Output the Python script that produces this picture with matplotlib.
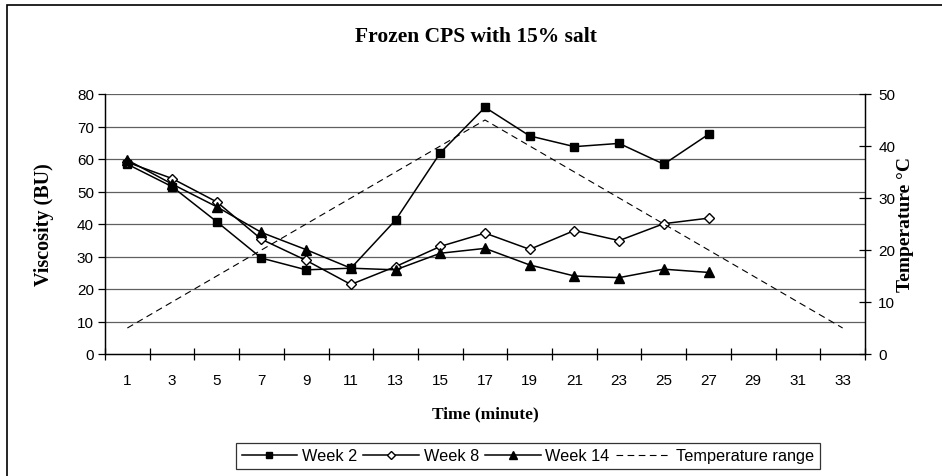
import matplotlib
matplotlib.use("Agg")
import matplotlib.pyplot as plt
from matplotlib.patches import Rectangle

# data
minutes = [1, 3, 5, 7, 9, 11, 13, 15, 17, 19, 21, 23, 25, 27]
week2 = [58.4, 51.5, 40.7, 29.5, 25.9, 26.4, 41.2, 61.9, 75.9, 67.1, 63.8, 64.8, 58.4, 67.6]
week8 = [59.0, 54.0, 46.8, 35.3, 28.8, 21.4, 26.9, 33.1, 37.2, 32.2, 38.0, 34.9, 40.1, 41.8]
week14 = [59.7, 52.3, 45.3, 37.4, 32.1, 26.4, 25.9, 31.0, 32.5, 27.4, 24.0, 23.5, 26.1, 25.1]

temp_minutes = [1, 3, 5, 7, 9, 11, 13, 15, 17, 19, 21, 23, 25, 27, 29, 31, 33]
temp = [5, 10, 15, 20, 25, 30, 35, 40, 45, 40, 35, 30, 25, 20, 15, 10, 5]

serif = "Liberation Serif"
sans = "Liberation Sans"

fig = plt.figure(figsize=(9.42, 4.77), dpi=100)
ax = fig.add_axes([105 / 942, 1 - 355 / 477, 760 / 942, 260 / 477])
ax2 = ax.twinx()

# chart area border (runs off the right and bottom of the image)
fig.patches.append(Rectangle((7 / 942, -0.2), 1.2, 1.2 - 6 / 477, transform=fig.transFigure,
                             fill=False, lw=1.2, ec="black"))

# horizontal gridlines
for v in range(10, 81, 10):
    ax.axhline(v, color="#606060", lw=0.9, zorder=0)

l2, = ax.plot(minutes, week2, "-", color="black", lw=1.1, marker="s", ms=6,
              mfc="black", mec="black", label="Week 2")
l8, = ax.plot(minutes, week8, "-", color="black", lw=1.1, marker="D", ms=5,
              mfc="white", mec="black", mew=1, label="Week 8")
l14, = ax.plot(minutes, week14, "-", color="black", lw=1.1, marker="^", ms=7,
               mfc="black", mec="black", label="Week 14")
lt, = ax2.plot(temp_minutes, temp, color="black", lw=0.8, dashes=(6, 4),
               label="Temperature range")

ax.set_xlim(0, 34)
ax.set_ylim(0, 80)
ax2.set_ylim(0, 50)

ax.set_xticks(temp_minutes)
ax.set_xticklabels([str(m) for m in temp_minutes], fontfamily=sans, fontsize=11)
ax.set_xticks(range(0, 35, 2), minor=True)
ax.tick_params(axis="x", which="major", length=0, pad=14)
ax.tick_params(axis="x", which="minor", direction="inout", length=9, width=0.9)

ax.set_yticks(range(0, 81, 10))
ax.tick_params(axis="y", direction="out", length=5, width=0.9, labelsize=11, pad=3)
for t in ax.get_yticklabels():
    t.set_fontfamily(sans)

ax2.set_yticks(range(0, 51, 10))
ax2.tick_params(axis="y", direction="inout", length=9, width=0.9, labelsize=11, pad=5)
for t in ax2.get_yticklabels():
    t.set_fontfamily(sans)

for a in (ax, ax2):
    a.spines["top"].set_visible(False)
    for s in ("left", "right", "bottom"):
        a.spines[s].set_linewidth(0.9)

ax.set_xlabel("Time (minute)", fontfamily=serif, fontweight="bold", fontsize=12.5, labelpad=13)
ax.set_ylabel("Viscosity (BU)", fontfamily=serif, fontweight="bold", fontsize=14.5)
ax.yaxis.set_label_coords(-0.067, 0.5)
ax2.set_ylabel("Temperature °C", fontfamily=serif, fontweight="bold", fontsize=14)
ax2.yaxis.set_label_coords(1.042, 0.5)

fig.text(476 / 942, 1 - 37 / 477, "Frozen CPS with 15% salt", ha="center", va="center",
         fontfamily=serif, fontweight="bold", fontsize=15.5)

leg = fig.legend(handles=[l2, l8, l14, lt], loc="center", ncol=4,
                 bbox_to_anchor=(528 / 942, 1 - 457 / 477),
                 prop={"family": sans, "size": 11.7}, frameon=True, fancybox=False,
                 edgecolor="black", handlelength=3.4, handletextpad=0.3,
                 columnspacing=0.4, borderpad=0.35, markerscale=0.8)
leg.get_frame().set_linewidth(0.9)

fig.savefig("out.png", dpi=100)
